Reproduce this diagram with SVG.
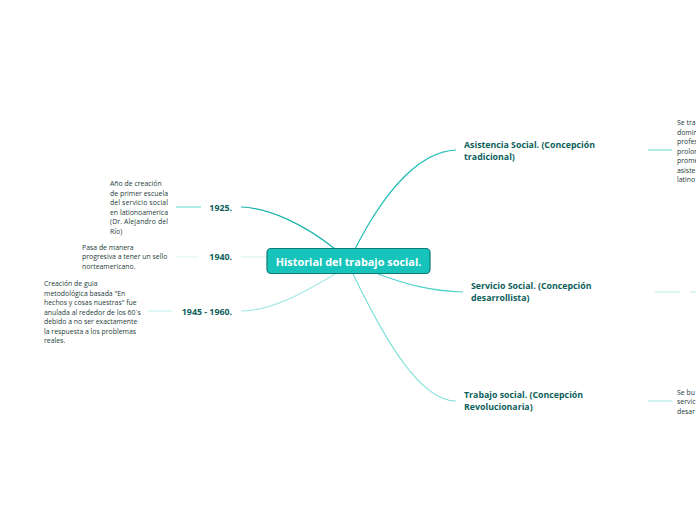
<svg xmlns="http://www.w3.org/2000/svg" width="696" height="520" viewBox="0 0 696 520">
<style>
.br{font-family:"Open Sans","Noto Sans",sans-serif;font-weight:bold;font-size:8.8px;fill:#0d5f5b}
.sm{font-family:"Open Sans","Noto Sans",sans-serif;font-size:6.9px;fill:#1d3b3a}
.c{fill:none;stroke-width:1.2}
.ln{stroke-width:1.2}
</style>
<rect width="696" height="520" fill="#ffffff"/>
<g id="connectors">
<path class="c" d="M355,249 C380,200 415,152 456,150" stroke="#1cbdb5"/>
<path class="c" d="M378,274 C405,284 430,291 463,292" stroke="#4fd0c9"/>
<path class="c" d="M353,274 C385,340 420,401 456,401" stroke="#7ddfd9"/>
<path class="c" d="M335,249 C305,225 270,208 241,207" stroke="#17b4ac"/>
<path class="c" d="M267,257 L241,257" stroke="#d8f4f2"/>
<path class="c" d="M335,274 C300,295 270,311 241,311" stroke="#a6eae6"/>
<line class="ln" x1="648" y1="150" x2="672" y2="150" stroke="#7fdcd7"/>
<line class="ln" x1="655" y1="292" x2="680" y2="292" stroke="#c3efec"/>
<line class="ln" x1="690" y1="292" x2="696" y2="292" stroke="#c3efec"/>
<line class="ln" x1="648" y1="401" x2="672" y2="401" stroke="#b3ebe8"/>
<line class="ln" x1="176" y1="207" x2="201" y2="207" stroke="#7fdcd7"/>
<line class="ln" x1="175" y1="257" x2="198" y2="257" stroke="#e2f7f5"/>
<line class="ln" x1="148" y1="311" x2="172" y2="311" stroke="#c9f1ee"/>
</g>
<g id="center">
<rect x="267" y="248.5" width="163" height="25" rx="4" fill="#16c4bc" stroke="#0e7a74" stroke-width="1.2"/>
<text x="348.5" y="265.8" text-anchor="middle" style="font-family:'Open Sans','Noto Sans',sans-serif;font-weight:bold;font-size:10.9px;fill:#ffffff">Historial del trabajo social.</text>
</g>
<g id="asistencia">
<text class="br" x="464" y="148">Asistencia Social. (Concepción</text>
<text class="br" x="464" y="160">tradicional)</text>
</g>
<g id="asistencia-desc">
<text class="sm" x="677" y="125">Se tra</text>
<text class="sm" x="677" y="134.5">domin</text>
<text class="sm" x="677" y="144">profes</text>
<text class="sm" x="677" y="153.5">prolor</text>
<text class="sm" x="677" y="163">prome</text>
<text class="sm" x="677" y="172.5">asiste</text>
<text class="sm" x="677" y="182">latino</text>
</g>
<g id="servicio">
<text class="br" x="471" y="289">Servicio Social. (Concepción</text>
<text class="br" x="471" y="301">desarrollista)</text>
</g>
<g id="trabajo">
<text class="br" x="464" y="398">Trabajo social. (Concepción</text>
<text class="br" x="464" y="410">Revolucionaria)</text>
</g>
<g id="trabajo-desc">
<text class="sm" x="677" y="394.5">Se bu</text>
<text class="sm" x="677" y="404">servic</text>
<text class="sm" x="677" y="413.5">desar</text>
</g>
<g id="y1925">
<text class="br" x="232" y="211" text-anchor="end">1925.</text>
</g>
<g id="y1925-desc">
<text class="sm" x="110" y="186">Año de creación</text>
<text class="sm" x="110" y="195.5" textLength="58" lengthAdjust="spacing">de primer escuela</text>
<text class="sm" x="110" y="205" textLength="58" lengthAdjust="spacing">del servicio social</text>
<text class="sm" x="110" y="214.5" textLength="58" lengthAdjust="spacing">en lationoamerica</text>
<text class="sm" x="110" y="224" textLength="58" lengthAdjust="spacing">(Dr. Alejandro del</text>
<text class="sm" x="110" y="233.5">Río)</text>
</g>
<g id="y1940">
<text class="br" x="232" y="260" text-anchor="end">1940.</text>
</g>
<g id="y1940-desc">
<text class="sm" x="82" y="249.5">Pasa de manera</text>
<text class="sm" x="82" y="259">progresiva a tener un sello</text>
<text class="sm" x="82" y="268.5">norteamericano.</text>
</g>
<g id="y1945">
<text class="br" x="232" y="315" text-anchor="end">1945 - 1960.</text>
</g>
<g id="y1945-desc">
<text class="sm" x="44" y="286">Creación de guia</text>
<text class="sm" x="44" y="295.5">metodológica basada "En</text>
<text class="sm" x="44" y="305">hechos y cosas nuestras" fue</text>
<text class="sm" x="44" y="314.5">anulada al rededor de los 60´s</text>
<text class="sm" x="44" y="324">debido a no ser exactamente</text>
<text class="sm" x="44" y="333.5">la respuesta a los problemas</text>
<text class="sm" x="44" y="343">reales.</text>
</g>
</svg>
